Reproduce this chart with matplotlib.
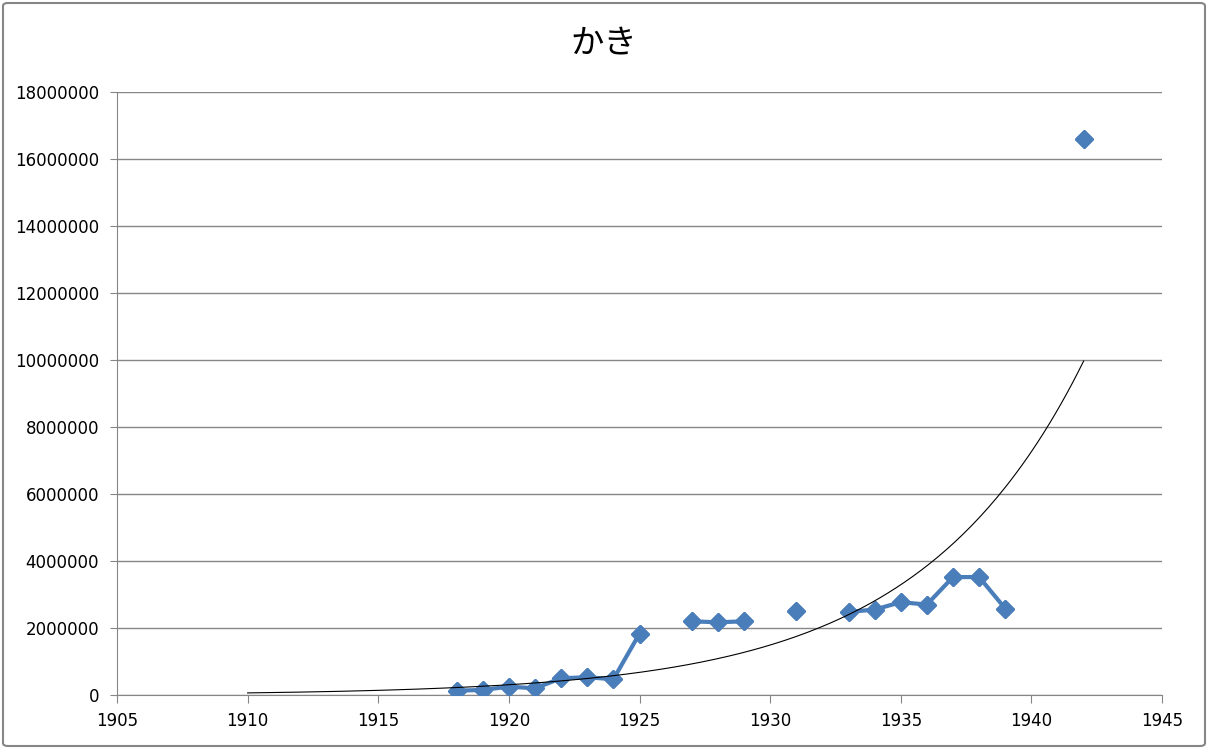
import numpy as np
import matplotlib
matplotlib.use("Agg")
import matplotlib.pyplot as plt
from matplotlib.patches import FancyBboxPatch

years = [1918, 1919, 1920, 1921, 1922, 1923, 1924, 1925, 1926, 1927, 1928, 1929,
         1930, 1931, 1932, 1933, 1934, 1935, 1936, 1937, 1938, 1939, 1940, 1941, 1942]
values = [130000, 150000, 250000, 200000, 500000, 530000, 470000, 1830000, np.nan,
          2200000, 2170000, 2200000, np.nan, 2500000, np.nan, 2480000, 2550000,
          2770000, 2700000, 3520000, 3520000, 2580000, np.nan, np.nan, 16600000]
trend_start = 1910
trend_end = 1942
title = "かき"
x_ticks = [1905, 1910, 1915, 1920, 1925, 1930, 1935, 1940, 1945]
y_ticks = [0, 2000000, 4000000, 6000000, 8000000, 10000000, 12000000, 14000000,
           16000000, 18000000]

plt.rcParams['font.family'] = ['DejaVu Sans']

fig = plt.figure(figsize=(12.08, 7.49), dpi=100)
ax = fig.add_axes([117/1208, 54/749, (1162-117)/1208, (695-92)/749])

x = np.array(years, dtype=float)
y = np.array(values, dtype=float)
mask = ~np.isnan(y)
b, a = np.polyfit(x[mask], np.log(y[mask]), 1)
tx = np.linspace(trend_start, trend_end, 300)
ty = np.exp(a + b * tx)

blue = '#4A7EBB'
ax.plot(x, y, color=blue, lw=3, marker='D', ms=9, mfc=blue, mec=blue, zorder=3)
ax.plot(x[mask], y[mask], ls='none', marker='D', ms=9, mfc=blue, mec=blue, zorder=3)
ax.plot(tx, ty, color='black', lw=0.8, zorder=4)

ax.set_xlim(1905, 1945)
ax.set_ylim(0, 18000000)
ax.set_xticks(x_ticks)
ax.set_yticks(y_ticks)
ax.set_xticklabels([str(t) for t in x_ticks], fontsize=12)
ax.set_yticklabels([str(t) for t in y_ticks], fontsize=12)
ax.yaxis.grid(True, color='#868686', lw=1)
ax.set_axisbelow(True)
for s in ['top', 'right']:
    ax.spines[s].set_visible(False)
for s in ['left', 'bottom']:
    ax.spines[s].set_color('#868686')
ax.tick_params(axis='x', direction='out', length=6, color='#868686', pad=6)
ax.tick_params(axis='y', direction='out', length=5, color='#868686', pad=8)

fig.text(0.5, 1 - 43/749, title, ha='center', va='center', fontsize=24,
         family=['Noto Sans CJK JP', 'DejaVu Sans'])

border = FancyBboxPatch((3/1208, 3/749), 1 - 6/1208, 1 - 6/749,
                        boxstyle='round,pad=0,rounding_size=0.004',
                        transform=fig.transFigure, fill=False,
                        edgecolor='#868686', lw=1.5)
fig.patches.append(border)

fig.savefig('out.png', dpi=100)
